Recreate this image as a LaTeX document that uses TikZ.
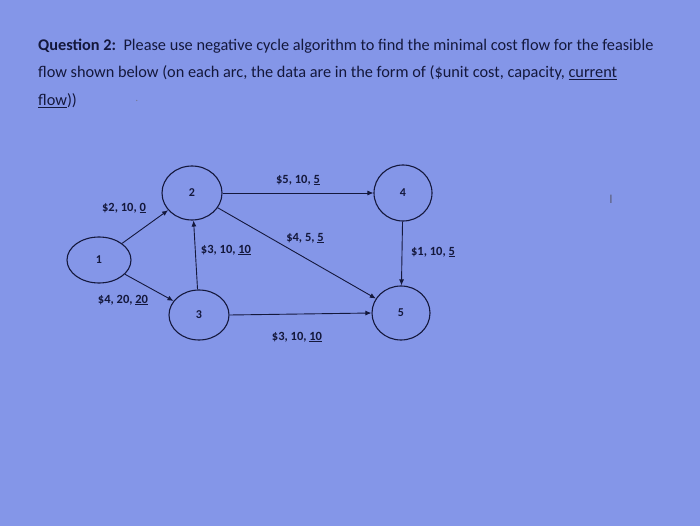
\documentclass[tikz,border=0pt]{standalone}
\usepackage{fontspec}
\setmainfont{Carlito}
\usetikzlibrary{shapes.geometric,arrows.meta}
\definecolor{bg}{RGB}{132,150,232}
\definecolor{ink}{RGB}{20,24,60}
\begin{document}
\begin{tikzpicture}[x=1pt,y=-1pt,
  vert/.style={ellipse,draw=ink,line width=1.1pt,minimum width=60pt,minimum height=54pt,inner sep=0pt,font=\fontsize{12}{13}\selectfont\bfseries,text=ink},
  arc/.style={draw=ink,line width=0.9pt,-{Latex[length=6pt,width=5pt]}},
  lab/.style={font=\fontsize{12.5}{14}\selectfont\bfseries,text=ink,inner sep=1pt}]
\fill[bg] (0,0) rectangle (700,526);
\useasboundingbox (0,0) rectangle (700,526);
\node[anchor=west,text=ink,font=\fontsize{16.3}{18}\selectfont,inner sep=0pt] (t1) at (38,46) {\textbf{Question 2:}\ \ Please use negative cycle algorithm to find the minimal cost flow for the feasible};
\node[anchor=west,text=ink,font=\fontsize{16.3}{18}\selectfont,inner sep=0pt] (t2) at (38,73) {flow shown below (on each arc, the data are in the form of (\$unit cost, capacity, \underline{current}};
\node[anchor=west,text=ink,font=\fontsize{16.3}{18}\selectfont,inner sep=0pt] (t3) at (38,101) {\underline{flow}))};
\node[text=ink!60,font=\fontsize{10}{10}\selectfont] (dot) at (137,101) {.};
\node[vert,minimum width=64pt,minimum height=46pt] (n1) at (99,260) {1};
\node[vert] (n2) at (192,193) {2};
\node[vert,minimum height=50pt] (n3) at (199,315) {3};
\node[vert,minimum width=58pt,minimum height=56pt] (n4) at (403,193) {4};
\node[vert,minimum width=58pt] (n5) at (401,313) {5};
\draw[arc] (n1) -- (n2);
\draw[arc] (n1) -- (n3);
\draw[arc] (n3) -- (n2);
\draw[arc] (n2.east) -- (n4.west);
\draw[arc] (n2) -- (n5);
\draw[arc] (n4) -- (n5);
\draw[arc] (n3.east) -- (n5.west);
\node[lab] (l12) at (124,208) {\$2, 10, \underline{0}};
\node[lab] (l24) at (298,180) {\$5, 10, \underline{5}};
\node[lab] (l25) at (305,238) {\$4, 5, \underline{5}};
\node[lab] (l32) at (226,250) {\$3, 10, \underline{10}};
\node[lab] (l45) at (433,252) {\$1, 10, \underline{5}};
\node[lab] (l13) at (123,300) {\$4, 20, \underline{20}};
\node[lab] (l35) at (297,337) {\$3, 10, \underline{10}};
\node[text=ink!70,font=\fontsize{13}{13}\selectfont\rmfamily] (cur) at (611,199) {I};
\end{tikzpicture}
\end{document}
